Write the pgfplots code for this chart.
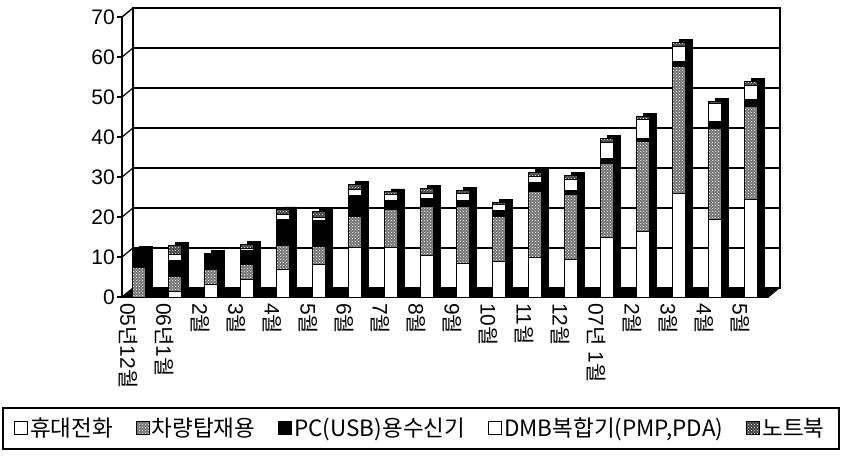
\documentclass[border=0pt]{standalone}
\usepackage{fontspec}
\setmainfont{Liberation Sans}
\newfontfamily\kr{Noto Sans CJK KR}
\usepackage{pgfplots}
\pgfplotsset{compat=1.18}
\usepackage{pgfplotstable}
\usetikzlibrary{patterns}
\newcommand\nyeon{{\kr 년}}
\newcommand\wol{{\kr 월}}

\pgfplotstableread{
x a b c d e
0 0 7.3 4.7 0 0
1 1.5 3.7 4 1.5 2.3
2 3.2 3.8 3.9 0 0
3 4.5 3.7 3.5 0.5 0.9
4 7 5.8 6.7 1.1 1.2
5 8.2 4.5 6.5 0.8 1.3
6 12.5 7.7 5.3 1.5 1.2
7 12.5 9.5 2.2 1.5 0.6
8 10.5 12.2 2 1.3 1.2
9 8.5 14.2 1.5 1.8 0.7
10 9 11.2 1.5 1.5 0.5
11 10 16.5 2.2 1.5 1
12 9.5 16.2 1 2.8 1
13 15 18.5 1.2 4 1
14 16.3 22.7 0.7 4.8 0.7
15 26 31.7 1.1 3.9 1
16 19.5 22.7 1.8 4.5 0.5
17 24.5 23.2 1.8 3.5 1
}\data

\pgfplotsset{
  common/.style={
    scale only axis, width=647pt, height=280pt,
    xmin=-0.29, xmax=17.68, ymin=0, ymax=70,
    enlargelimits=false, anchor=south west,
  },
}

\begin{document}
\begin{tikzpicture}[x=1pt,y=1pt]
\useasboundingbox (0,0) rectangle (841,456);
% back wall
\begin{axis}[common, at={(133pt,168pt)},
  xtick=\empty, ytick={0,10,...,70}, yticklabels={},
  major tick length=0pt,
  ymajorgrids, grid style={black, line width=1.6pt},
  axis line style={black, line width=1.2pt}]
\end{axis}
% floor and left wall
\fill[black] (122,159) -- (769,159) -- (780,168) -- (133,168) -- cycle;
\draw[line width=1.4pt] (122,159) -- (122,439) -- (133,448);
\foreach \k in {0,...,6}{\draw[line width=1.2pt] (122,159+40*\k) -- (133,168+40*\k);}
% shadow (3D side/top)
\begin{axis}[common, at={(129pt,162pt)}, hide axis,
  ybar stacked, bar width=13pt, bar shift=6.5pt]
\foreach \s in {a,b,c,d,e}{
  \addplot[fill=black, draw=black] table[x=x, y=\s]{\data};
}
\end{axis}
% front bars
\begin{axis}[common, at={(122pt,159pt)},
  ybar stacked, bar width=13pt, bar shift=6.5pt,
  axis x line*=bottom, axis y line*=left,
  axis line style={-, line width=1.4pt},
  xtick={0,...,17},
  xticklabels={05\nyeon12\wol, 06\nyeon1\wol, 2\wol, 3\wol, 4\wol, 5\wol, 6\wol, 7\wol, 8\wol, 9\wol, 10\wol, 11\wol, 12\wol, 07\nyeon\ 1\wol, 2\wol, 3\wol, 4\wol, 5\wol},
  xtick style={draw=none},
  xticklabel style={rotate=-90, anchor=west, font=\fontsize{21}{23}\selectfont, inner sep=1pt, yshift=-4pt},
  ytick={0,10,...,70},
  ytick style={line width=1.2pt, black},
  major tick length=5pt, tick align=outside,
  yticklabel style={font=\fontsize{21}{23}\selectfont, inner sep=2pt},
  /pgf/number format/assume math mode=true,
  legend columns=5,
  legend style={draw=none, fill=none, at={(0.461,-0.468)}, anchor=center,
    font=\kr\fontsize{22.5}{25}\selectfont,
    /tikz/every even column/.append style={column sep=21pt}},
  legend image code/.code={\draw[#1, line width=1pt] (0pt,-6.5pt) rectangle (13pt,6.5pt);},
]
\addplot[fill=white, draw=black, line width=0.8pt] table[x=x, y=a]{\data};
\addlegendentry{휴대전화}
\addplot[fill=black!55, draw=black, line width=0.8pt, postaction={pattern=crosshatch dots, pattern color=white}] table[x=x, y=b]{\data};
\addlegendentry{차량탑재용}
\addplot[fill=black, draw=black, line width=0.8pt] table[x=x, y=c]{\data};
\addlegendentry{PC(USB)용수신기}
\addplot[fill=white, draw=black, line width=0.8pt] table[x=x, y=d]{\data};
\addlegendentry{{DMB복합기(PMP,PDA)}}
\addplot[fill=black!75, draw=black, line width=0.8pt, postaction={pattern=crosshatch dots, pattern color=white}] table[x=x, y=e]{\data};
\addlegendentry{노트북}
\end{axis}
\draw[line width=1.2pt] (3,7) rectangle (839,48);
\end{tikzpicture}
\end{document}
